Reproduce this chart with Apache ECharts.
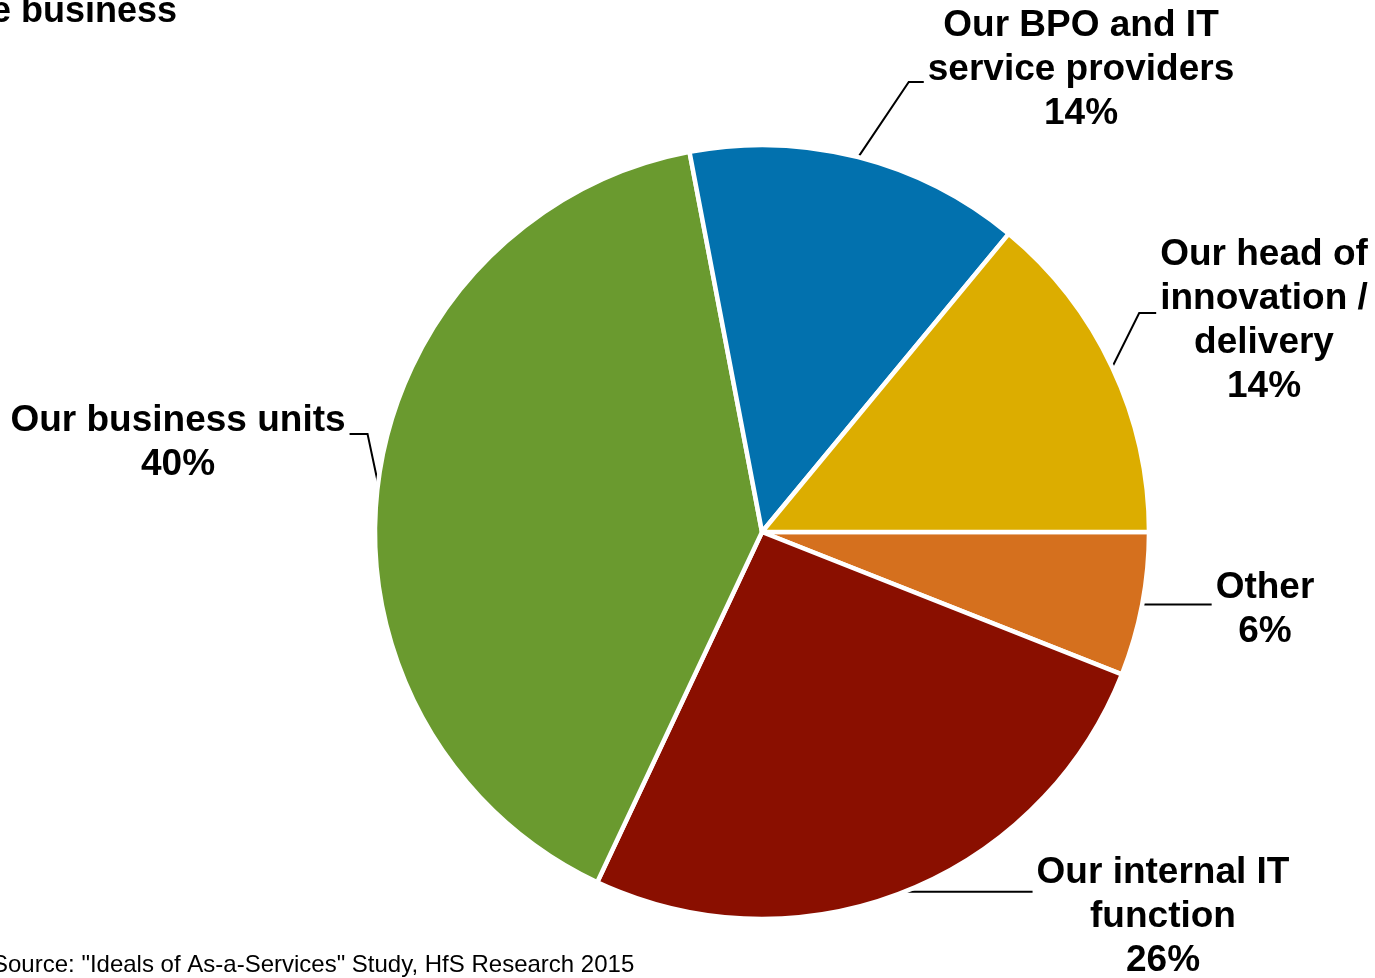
<!DOCTYPE html>
<html>
<head>
<meta charset="utf-8">
<script src="https://cdn.jsdelivr.net/npm/echarts@6/dist/echarts.min.js"></script>
<style>
  html, body { margin: 0; padding: 0; background: #ffffff; }
  #chart { width: 1375px; height: 978px; }
</style>
</head>
<body>
<div id="chart"></div>
<script>
// Slices listed clockwise from 3 o'clock
const categories = [
  'Other',
  'Our internal IT\nfunction',
  'Our business units',
  'Our BPO and IT\nservice providers',
  'Our head of\ninnovation /\ndelivery'
];
const shares = [6, 26, 40, 14, 14];
const sliceColors = ['#d5701e', '#8a0f00', '#6a9a2f', '#0271ae', '#dcad00'];

const titleText = 'e business';
const sourceText = 'Source: "Ideals of As-a-Services" Study, HfS Research 2015';

// Where each label block sits, which side its leader enters, and the leader's shape
const labelPlacement = [
  { x: 1265, y: 610, side: 'left', flat: true },
  { x: 1163, y: 917, side: 'left', flat: true },
  { x: 178,  y: 443, side: 'right', dy: -9, run: 18 },
  { x: 1081, y: 70,  side: 'left', dy: 12, run: 15 },
  { x: 1264, y: 321, side: 'left', dy: -8, run: 17 }
];

const FONT = '"Liberation Sans", Arial, Helvetica, sans-serif';
const chart = echarts.init(document.getElementById('chart'), null, { renderer: 'canvas' });

chart.setOption({
  animation: false,
  backgroundColor: '#ffffff',
  graphic: [
    {
      type: 'text',
      left: -9,
      top: -6,
      style: {
        text: titleText,
        font: 'bold 36px ' + FONT,
        fill: '#000000'
      }
    },
    {
      type: 'text',
      left: -8,
      top: 953,
      style: {
        text: sourceText,
        font: '24px ' + FONT,
        fill: '#000000'
      }
    }
  ],
  series: [
    {
      type: 'pie',
      center: [762, 532],
      radius: 387,
      startAngle: 0,
      clockwise: true,
      avoidLabelOverlap: false,
      emphasis: { disabled: true },
      itemStyle: { borderColor: '#ffffff', borderWidth: 4.5 },
      label: {
        show: true,
        position: 'outside',
        formatter: '{b}\n{c}%',
        color: '#000000',
        fontFamily: FONT,
        fontWeight: 'bold',
        fontSize: 37,
        lineHeight: 44,
        align: 'center'
      },
      labelLine: {
        show: true,
        lineStyle: { color: '#000000', width: 2 }
      },
      labelLayout: function (params) {
        const p = labelPlacement[params.dataIndex];
        const w = params.labelRect.width;
        const start = params.labelLinePoints[0];
        const edgeX = p.side === 'left' ? p.x - w / 2 - 4 : p.x + w / 2 + 4;
        let pts;
        if (p.flat) {
          pts = [start, [edgeX, start[1]]];
        } else {
          const yA = p.y + p.dy;
          const bendX = p.side === 'left' ? edgeX - p.run : edgeX + p.run;
          pts = [start, [bendX, yA], [edgeX, yA]];
        }
        return {
          x: p.x,
          y: p.y,
          align: 'center',
          verticalAlign: 'middle',
          labelLinePoints: pts
        };
      },
      data: categories.map((name, i) => ({
        name: name,
        value: shares[i],
        itemStyle: { color: sliceColors[i] }
      }))
    }
  ]
});
</script>
</body>
</html>
